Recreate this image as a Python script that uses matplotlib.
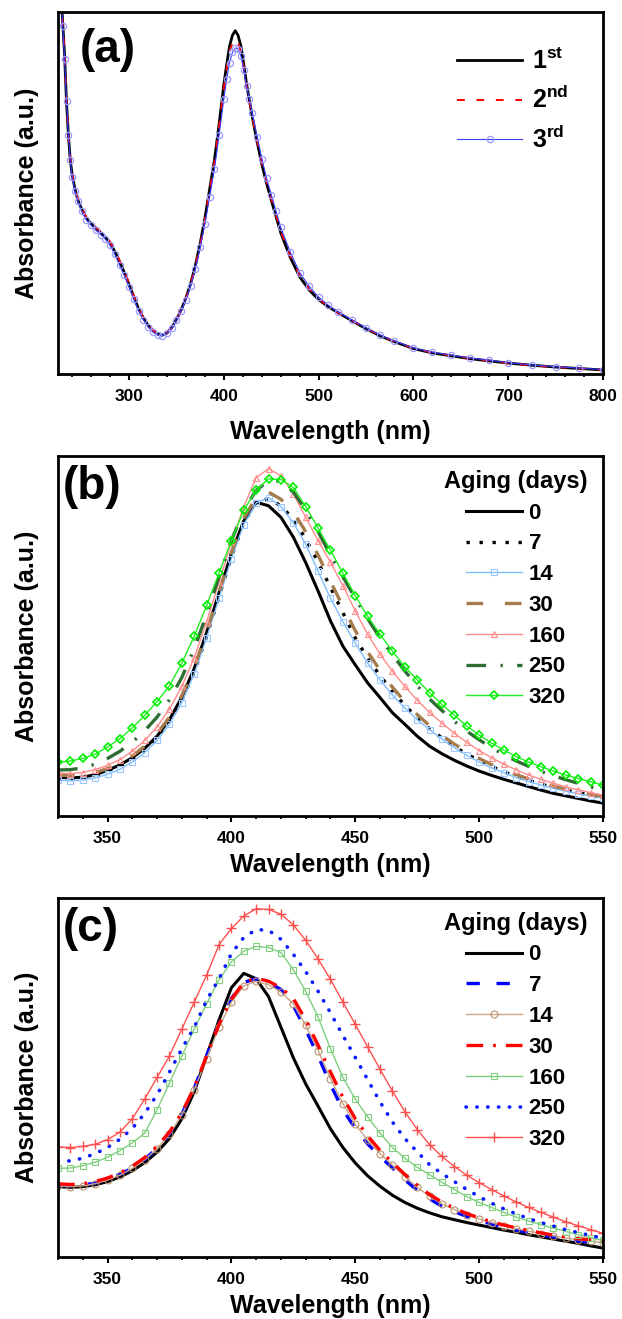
import numpy as np
import matplotlib
matplotlib.use('Agg')
import matplotlib.pyplot as plt
from matplotlib.ticker import MultipleLocator

plt.rcParams['font.family'] = ['Liberation Sans', 'DejaVu Sans']
plt.rcParams['font.weight'] = 'bold'
plt.rcParams['mathtext.fontset'] = 'custom'
plt.rcParams['mathtext.bf'] = 'Liberation Sans:bold'
plt.rcParams['mathtext.rm'] = 'Liberation Sans:bold'

# ---- panel (a): three repeated syntheses ----
wl_a = [226, 228, 230, 232, 234, 236, 238, 240, 243, 246, 250, 255, 260, 265, 270, 275, 280, 285,
        290, 295, 300, 305, 310, 315, 320, 325, 330, 335, 340, 345, 350, 355, 360, 365, 370, 375,
        380, 385, 390, 395, 400, 403, 406, 409, 412, 415, 418, 421, 424, 427, 430, 435, 440, 445,
        450, 455, 460, 470, 480, 490, 500, 510, 520, 535, 550, 565, 580, 600, 620, 640, 660, 680,
        700, 725, 750, 775, 800]
abs_1st = [1.20, 1.06, 0.97, 0.88, 0.75, 0.66, 0.59, 0.55, 0.51, 0.48, 0.455, 0.43, 0.415, 0.402, 0.39, 0.378, 0.362, 0.338,
           0.31, 0.28, 0.247, 0.213, 0.18, 0.155, 0.135, 0.12, 0.11, 0.107, 0.113, 0.128, 0.15, 0.177, 0.21, 0.25, 0.30, 0.36,
           0.43, 0.51, 0.59, 0.69, 0.80, 0.855, 0.905, 0.935, 0.948, 0.935, 0.905, 0.855, 0.80, 0.755, 0.71, 0.642, 0.58, 0.527,
           0.48, 0.435, 0.39, 0.322, 0.268, 0.232, 0.205, 0.186, 0.17, 0.147, 0.125, 0.105, 0.089, 0.07, 0.058, 0.05, 0.042, 0.036,
           0.03, 0.024, 0.019, 0.015, 0.011]
abs_2nd = [1.20, 1.06, 0.97, 0.88, 0.752, 0.662, 0.593, 0.553, 0.513, 0.483, 0.458, 0.433, 0.418, 0.405, 0.393, 0.381, 0.365, 0.341,
           0.313, 0.283, 0.25, 0.215, 0.182, 0.156, 0.136, 0.121, 0.11, 0.107, 0.113, 0.127, 0.149, 0.176, 0.208, 0.248, 0.297, 0.356,
           0.425, 0.505, 0.585, 0.685, 0.79, 0.845, 0.89, 0.915, 0.925, 0.915, 0.89, 0.845, 0.795, 0.752, 0.712, 0.645, 0.585, 0.532,
           0.485, 0.44, 0.395, 0.326, 0.272, 0.235, 0.207, 0.188, 0.17, 0.148, 0.126, 0.106, 0.09, 0.071, 0.059, 0.051, 0.043, 0.037,
           0.029, 0.024, 0.019, 0.015, 0.011]
abs_3rd = [1.20, 1.05, 0.96, 0.87, 0.755, 0.66, 0.59, 0.545, 0.505, 0.477, 0.45, 0.425, 0.41, 0.397, 0.385, 0.372, 0.355, 0.33,
           0.30, 0.272, 0.24, 0.207, 0.175, 0.15, 0.13, 0.116, 0.108, 0.105, 0.112, 0.126, 0.148, 0.175, 0.205, 0.243, 0.29, 0.35,
           0.415, 0.49, 0.565, 0.66, 0.76, 0.815, 0.86, 0.888, 0.90, 0.898, 0.878, 0.84, 0.795, 0.758, 0.72, 0.655, 0.595, 0.54,
           0.495, 0.45, 0.405, 0.337, 0.28, 0.242, 0.212, 0.19, 0.172, 0.149, 0.127, 0.107, 0.091, 0.072, 0.06, 0.052, 0.044, 0.038,
           0.031, 0.025, 0.02, 0.016, 0.012]

# ---- panel (b) and (c): aging series, 330-550 nm every 5 nm ----
wl_bc = list(range(330, 551, 5))
aging_days = ['0', '7', '14', '30', '160', '250', '320']

b_0 = [0.108, 0.106, 0.108, 0.115, 0.127, 0.142, 0.162, 0.188, 0.222, 0.268, 0.33, 0.41, 0.51, 0.62, 0.73,
       0.82, 0.872, 0.862, 0.83, 0.775, 0.704, 0.625, 0.542, 0.472, 0.42, 0.37, 0.329, 0.287, 0.255, 0.222,
       0.194, 0.173, 0.155, 0.139, 0.125, 0.113, 0.102, 0.092, 0.082, 0.072, 0.063, 0.056, 0.049, 0.042, 0.036]
b_7 = [0.106, 0.104, 0.106, 0.113, 0.124, 0.138, 0.158, 0.184, 0.218, 0.263, 0.323, 0.40, 0.50, 0.61, 0.72,
       0.815, 0.872, 0.882, 0.862, 0.825, 0.77, 0.705, 0.635, 0.565, 0.495, 0.438, 0.39, 0.346, 0.308, 0.273,
       0.243, 0.217, 0.193, 0.172, 0.154, 0.138, 0.123, 0.11, 0.099, 0.089, 0.08, 0.072, 0.065, 0.058, 0.052]
b_14 = [0.10, 0.098, 0.10, 0.106, 0.116, 0.13, 0.15, 0.176, 0.21, 0.255, 0.315, 0.395, 0.495, 0.605, 0.715,
        0.81, 0.87, 0.885, 0.86, 0.815, 0.755, 0.68, 0.605, 0.54, 0.48, 0.425, 0.378, 0.336, 0.30, 0.268,
        0.24, 0.214, 0.19, 0.169, 0.15, 0.134, 0.12, 0.107, 0.096, 0.086, 0.077, 0.069, 0.062, 0.056, 0.05]
b_30 = [0.114, 0.112, 0.114, 0.121, 0.132, 0.147, 0.167, 0.194, 0.229, 0.275, 0.335, 0.413, 0.512, 0.622, 0.732,
        0.827, 0.885, 0.90, 0.88, 0.845, 0.79, 0.725, 0.652, 0.582, 0.515, 0.456, 0.405, 0.358, 0.318, 0.282,
        0.251, 0.224, 0.20, 0.179, 0.16, 0.143, 0.128, 0.115, 0.103, 0.093, 0.083, 0.075, 0.068, 0.061, 0.055]
b_160 = [0.12, 0.118, 0.121, 0.129, 0.141, 0.157, 0.18, 0.21, 0.248, 0.297, 0.36, 0.44, 0.54, 0.65, 0.76,
         0.86, 0.94, 0.965, 0.945, 0.895, 0.83, 0.765, 0.705, 0.64, 0.57, 0.505, 0.45, 0.402, 0.36, 0.322,
         0.288, 0.258, 0.23, 0.205, 0.182, 0.162, 0.144, 0.128, 0.114, 0.102, 0.091, 0.081, 0.073, 0.065, 0.058]
b_250 = [0.128, 0.129, 0.134, 0.144, 0.16, 0.18, 0.205, 0.237, 0.275, 0.323, 0.385, 0.465, 0.56, 0.665, 0.765,
         0.85, 0.905, 0.932, 0.93, 0.90, 0.85, 0.79, 0.725, 0.665, 0.605, 0.548, 0.495, 0.448, 0.403, 0.362,
         0.325, 0.293, 0.263, 0.236, 0.212, 0.19, 0.17, 0.153, 0.138, 0.124, 0.112, 0.101, 0.091, 0.081, 0.072]
b_320 = [0.150, 0.153, 0.160, 0.172, 0.192, 0.215, 0.245, 0.28, 0.318, 0.362, 0.425, 0.50, 0.585, 0.675, 0.765,
         0.85, 0.905, 0.937, 0.935, 0.913, 0.86, 0.80, 0.738, 0.675, 0.612, 0.555, 0.505, 0.458, 0.415, 0.378,
         0.343, 0.31, 0.28, 0.25, 0.225, 0.203, 0.183, 0.165, 0.15, 0.137, 0.125, 0.114, 0.104, 0.095, 0.086]

c_0 = [0.196, 0.194, 0.196, 0.201, 0.21, 0.223, 0.24, 0.263, 0.292, 0.33, 0.385, 0.46, 0.56, 0.66, 0.75,
       0.79, 0.775, 0.725, 0.64, 0.555, 0.482, 0.42, 0.357, 0.305, 0.262, 0.226, 0.197, 0.172, 0.152, 0.136,
       0.123, 0.112, 0.104, 0.096, 0.089, 0.082, 0.075, 0.069, 0.062, 0.056, 0.05, 0.044, 0.038, 0.031, 0.025]
c_7 = [0.20, 0.198, 0.20, 0.206, 0.216, 0.23, 0.248, 0.272, 0.303, 0.343, 0.398, 0.47, 0.56, 0.65, 0.72,
       0.765, 0.775, 0.765, 0.745, 0.70, 0.633, 0.56, 0.48, 0.41, 0.358, 0.315, 0.28, 0.248, 0.215, 0.186,
       0.162, 0.141, 0.126, 0.113, 0.102, 0.092, 0.083, 0.075, 0.068, 0.061, 0.056, 0.05, 0.045, 0.04, 0.036]
c_14 = [0.198, 0.196, 0.198, 0.204, 0.214, 0.228, 0.247, 0.271, 0.302, 0.342, 0.396, 0.466, 0.552, 0.64, 0.71,
        0.755, 0.768, 0.758, 0.738, 0.705, 0.645, 0.575, 0.497, 0.427, 0.37, 0.325, 0.288, 0.256, 0.224, 0.194,
        0.169, 0.148, 0.132, 0.118, 0.106, 0.096, 0.087, 0.079, 0.072, 0.065, 0.059, 0.053, 0.048, 0.044, 0.04]
c_30 = [0.204, 0.202, 0.204, 0.21, 0.22, 0.234, 0.253, 0.277, 0.308, 0.348, 0.402, 0.472, 0.56, 0.648, 0.718,
        0.765, 0.777, 0.768, 0.75, 0.72, 0.66, 0.59, 0.515, 0.445, 0.385, 0.337, 0.297, 0.263, 0.23, 0.20,
        0.174, 0.153, 0.136, 0.121, 0.109, 0.098, 0.089, 0.081, 0.074, 0.067, 0.061, 0.056, 0.051, 0.048, 0.045]
c_160 = [0.247, 0.248, 0.254, 0.264, 0.278, 0.296, 0.318, 0.345, 0.41, 0.485, 0.56, 0.635, 0.705, 0.772, 0.822,
         0.852, 0.865, 0.862, 0.848, 0.80, 0.74, 0.668, 0.58, 0.50, 0.44, 0.39, 0.345, 0.305, 0.275, 0.25,
         0.229, 0.208, 0.188, 0.168, 0.152, 0.138, 0.124, 0.111, 0.10, 0.09, 0.08, 0.071, 0.062, 0.054, 0.046]
c_250 = [0.265, 0.268, 0.275, 0.288, 0.305, 0.328, 0.358, 0.40, 0.452, 0.515, 0.58, 0.64, 0.715, 0.775, 0.845,
         0.89, 0.912, 0.91, 0.885, 0.843, 0.795, 0.74, 0.68, 0.617, 0.556, 0.494, 0.432, 0.376, 0.33, 0.293,
         0.257, 0.232, 0.21, 0.188, 0.168, 0.15, 0.134, 0.12, 0.107, 0.096, 0.086, 0.076, 0.068, 0.06, 0.052]
c_320 = [0.307, 0.305, 0.308, 0.314, 0.327, 0.348, 0.385, 0.44, 0.50, 0.56, 0.635, 0.71, 0.785, 0.87, 0.915,
         0.95, 0.97, 0.968, 0.955, 0.925, 0.882, 0.83, 0.773, 0.71, 0.648, 0.585, 0.523, 0.462, 0.405, 0.355,
         0.313, 0.28, 0.252, 0.228, 0.207, 0.188, 0.17, 0.153, 0.138, 0.124, 0.111, 0.098, 0.087, 0.076, 0.066]

b_series = [b_0, b_7, b_14, b_30, b_160, b_250, b_320]
c_series = [c_0, c_7, c_14, c_30, c_160, c_250, c_320]

# line styles for each aging curve
b_styles = [dict(color='black', lw=2.2),
            dict(color='black', lw=2.4, ls=(0, (1, 2.9))),
            dict(color='#7fbfff', lw=1.0, marker='s', ms=4, mfc='none', mec='#9cc8ff', mew=0.8),
            dict(color='#a57c4c', lw=2.4, ls=(0, (5, 6.5))),
            dict(color='#ff8c8c', lw=1.0, marker='^', ms=5, mfc='none', mec='#ff8c8c', mew=0.8),
            dict(color='#2f6e33', lw=2.4, ls=(0, (5.9, 4.3, 0.7, 4.3))),
            dict(color='#22ee22', lw=1.0, marker='D', ms=4, mfc='none', mec='#00ee00', mew=1.2)]
c_styles = [dict(color='black', lw=2.2),
            dict(color='#0000ff', lw=2.4, ls=(0, (4, 5))),
            dict(color='#caa68a', lw=1.0, marker='o', ms=5, mfc='none', mec='#b9906c', mew=0.8),
            dict(color='#ff0000', lw=2.4, ls=(0, (5, 3, 0.8, 3))),
            dict(color='#7fcf7f', lw=1.0, marker='s', ms=4.5, mfc='none', mec='#7fcf7f', mew=0.8),
            dict(color='#0a1aff', lw=2.6, ls=(0, (0.1, 2.9)), dash_capstyle='round'),
            dict(color='#ff5050', lw=1.0, marker='+', ms=7, mec='#ff5050', mew=1.0)]


def style_axes(ax, xmin, xmax, major, minor, xpad):
    ax.set_xlim(xmin, xmax)
    ax.set_yticks([])
    ax.xaxis.set_major_locator(MultipleLocator(major))
    ax.xaxis.set_minor_locator(MultipleLocator(minor))
    ax.tick_params(axis='x', which='major', direction='out', length=4.5, width=1.5,
                   labelsize=12.5, pad=6)
    ax.tick_params(axis='x', which='minor', direction='out', length=2.5, width=1.3)
    for lab in ax.get_xticklabels():
        lab.set_fontweight('bold')
    for sp in ax.spines.values():
        sp.set_linewidth(2.0)
    ax.set_xlabel('Wavelength (nm)', fontsize=18, fontweight='bold', labelpad=xpad)
    ax.set_ylabel('Absorbance (a.u.)', fontsize=18, fontweight='bold', labelpad=14)


fig = plt.figure(figsize=(6.22, 13.19), dpi=100)
ax_a = fig.add_axes([0.0932, 0.7165, 0.8763, 0.2745])
ax_b = fig.add_axes([0.0932, 0.3813, 0.8763, 0.2729])
ax_c = fig.add_axes([0.0932, 0.0470, 0.8763, 0.2722])

# panel (a)
ax_a.plot(wl_a, abs_1st, color='black', lw=2.0, label=r'$\mathbf{1^{st}}$')
ax_a.plot(wl_a, abs_2nd, color='red', lw=1.4, ls=(0, (4, 6)), label=r'$\mathbf{2^{nd}}$')
ax_a.plot(wl_a, abs_3rd, color='#3a3aff', lw=0.8, marker='o', ms=4.5, mfc='none',
          mec='#9a9aff', mew=0.9, label=r'$\mathbf{3^{rd}}$')
ax_a.set_ylim(0, 1.0)
style_axes(ax_a, 225, 800, 100, 20, 12)
ax_a.text(0.04, 0.955, '(a)', transform=ax_a.transAxes, fontsize=33, fontweight='bold',
          va='top', ha='left')
ax_a.legend(loc='upper right', bbox_to_anchor=(0.937, 0.90), frameon=False, fontsize=18,
            handlelength=2.6, handletextpad=0.4, labelspacing=0.5, borderpad=0,
            borderaxespad=0)

# panels (b) and (c)
for ax, series, styles, tag, xpad in [(ax_b, b_series, b_styles, '(b)', 5),
                                      (ax_c, c_series, c_styles, '(c)', 5)]:
    for vals, st, lab in zip(series, styles, aging_days):
        ax.plot(wl_bc, vals, label=lab, **st)
    ax.set_ylim(0, 1.0)
    style_axes(ax, 330, 550, 50, 10, xpad)
    ax.text(0.008, 0.975, tag, transform=ax.transAxes, fontsize=33, fontweight='bold',
            va='top', ha='left')
    leg = ax.legend(loc='upper right', bbox_to_anchor=(0.972, 0.962), frameon=False,
                    fontsize=16, title='Aging (days)', handlelength=2.5,
                    handletextpad=0.3, labelspacing=0.44, borderpad=0, borderaxespad=0)
    leg.get_title().set_fontsize(17)
    leg.get_title().set_fontweight('bold')

fig.savefig('out.png', dpi=100)
